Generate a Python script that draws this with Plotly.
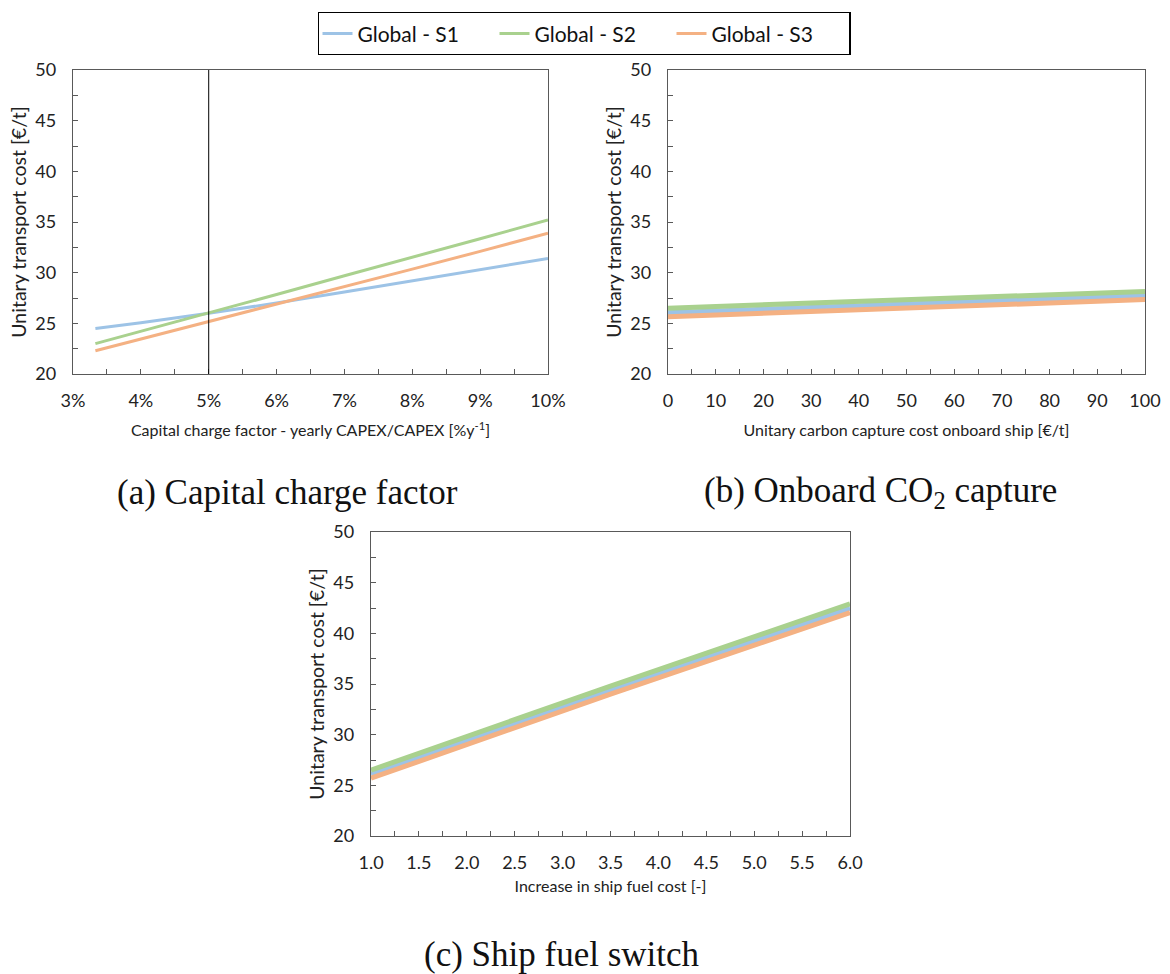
import plotly.graph_objects as go

# ---------------- data ----------------
series_names = ["Global - S1", "Global - S2", "Global - S3"]
series_colors = ["#9DC3E6", "#A9D18E", "#F4B183"]

# (a) Capital charge factor [%/y]
ccf_x = [3.33, 4, 5, 6, 7, 8, 9, 10]
ccf_s1 = [24.5, 25.05, 26.0, 27.0, 28.1, 29.2, 30.3, 31.4]
ccf_s2 = [23.0, 24.2, 26.0, 27.85, 29.7, 31.5, 33.35, 35.2]
ccf_s3 = [22.3, 23.45, 25.15, 26.9, 28.6, 30.35, 32.1, 33.9]
ccf_reference = 5

# (b) Onboard CO2 capture cost [€/t]
cap_x = [0, 50, 100]
cap_s1 = [26.05, 26.9, 27.75]
cap_s2 = [26.5, 27.3, 28.15]
cap_s3 = [25.65, 26.5, 27.35]

# (c) Ship fuel switch [-]
fuel_x = [1.0, 3.5, 6.0]
fuel_s1 = [26.1, 34.4, 42.5]
fuel_s2 = [26.5, 34.8, 42.9]
fuel_s3 = [25.7, 34.0, 42.05]

y_range = [20, 50]
y_title = "Unitary transport cost [€/t]"

# ---------------- figure ----------------
fig = go.Figure()

panels = [
    ("x", "y", ccf_x, [ccf_s1, ccf_s2, ccf_s3], 3),
    ("x2", "y2", cap_x, [cap_s1, cap_s2, cap_s3], 5),
    ("x3", "y3", fuel_x, [fuel_s1, fuel_s2, fuel_s3], 5),
]
for pi, (xa, ya, xs, ys_list, w) in enumerate(panels):
    for name, color, ys in zip(series_names, series_colors, ys_list):
        fig.add_trace(go.Scatter(
            x=xs, y=ys, mode="lines", name=name, xaxis=xa, yaxis=ya,
            line=dict(color=color, width=w),
            showlegend=(pi == 0), legendgroup=name,
        ))

tick_font = dict(family="Lato, Carlito, sans-serif", size=18, color="#222222")
xtitle_font = dict(family="Lato, Carlito, sans-serif", size=16, color="#222222")
ytitle_font = dict(family="Lato, Carlito, sans-serif", size=19.5, color="#222222")
axis_color = "#595959"

def xaxis_cfg(domain, rng, dtick, minor_dtick, title, standoff, **kw):
    d = dict(domain=domain, range=rng, dtick=dtick, tick0=rng[0], automargin=False,
             showgrid=False, zeroline=False, showline=True, mirror=True,
             linecolor=axis_color, linewidth=1.3,
             ticks="inside", ticklen=5, tickcolor=axis_color,
             minor=dict(dtick=minor_dtick, ticks="inside", ticklen=5, tickcolor=axis_color, showgrid=False),
             tickfont=tick_font, ticklabelstandoff=10,
             title=dict(text=title, font=xtitle_font, standoff=standoff))
    d.update(kw)
    return d

def yaxis_cfg(domain, anchor):
    return dict(domain=domain, range=y_range, dtick=5, tick0=20, anchor=anchor, automargin=False,
                showgrid=False, zeroline=False, showline=True, mirror=True,
                linecolor=axis_color, linewidth=1.3,
                ticks="inside", ticklen=5, tickcolor=axis_color,
                minor=dict(dtick=2.5, ticks="inside", ticklen=5, tickcolor=axis_color, showgrid=False),
                tickfont=tick_font, ticklabelstandoff=12,
                title=dict(text=y_title, font=ytitle_font, standoff=3))

top_dom = [1 - 374 / 974, 1 - 70 / 974]
bot_dom = [1 - 836 / 974, 1 - 532 / 974]

fig.update_layout(
    width=1170, height=974,
    margin=dict(l=0, r=0, t=0, b=0, autoexpand=False),
    paper_bgcolor="white", plot_bgcolor="white",
    xaxis=xaxis_cfg([73 / 1170, 548 / 1170], [3, 10], 1, 0.5,
                    "Capital charge factor - yearly CAPEX/CAPEX [%y<sup>-1</sup>]", 15,
                    ticksuffix="%", anchor="y"),
    yaxis=yaxis_cfg(top_dom, "x"),
    xaxis2=xaxis_cfg([668 / 1170, 1145 / 1170], [0, 100], 10, 5,
                     "Unitary carbon capture cost onboard ship [€/t]", 15, anchor="y2"),
    yaxis2=yaxis_cfg(top_dom, "x2"),
    xaxis3=xaxis_cfg([371 / 1170, 850 / 1170], [1, 6], 0.5, 0.25,
                     "Increase in ship fuel cost [-]", 9, tickformat=".1f", anchor="y3"),
    yaxis3=yaxis_cfg(bot_dom, "x3"),
    legend=dict(orientation="h", x=584 / 1170, xanchor="center", y=1 - 12 / 974, yanchor="top",
                bordercolor="#000000", borderwidth=1.3, bgcolor="white",
                font=dict(family="Lato, Carlito, sans-serif", size=21, color="#111111"),
                itemwidth=30, entrywidth=132, entrywidthmode="pixels", tracegroupgap=0),
    showlegend=True,
)

# reference vertical line at 5% in panel (a)
fig.add_shape(type="line", xref="x", yref="y domain", x0=ccf_reference, x1=ccf_reference,
              y0=0, y1=1, line=dict(color="black", width=1))

cap_font = dict(family="Liberation Serif, DejaVu Serif, serif", size=35, color="#111111")
captions = [
    ("(a) Capital charge factor", 287, 492),
    ("(b) Onboard CO<sub>2</sub> capture", 880, 492),
    ("(c) Ship fuel switch", 562, 954),
]
for text, cx, cy in captions:
    fig.add_annotation(text=text, x=cx / 1170, y=1 - cy / 974, xref="paper", yref="paper",
                       showarrow=False, xanchor="center", yanchor="middle", font=cap_font)

fig.write_html("out.html", config={"displayModeBar": False},
               post_script="document.body.style.margin='0px';document.body.style.overflow='hidden';")
